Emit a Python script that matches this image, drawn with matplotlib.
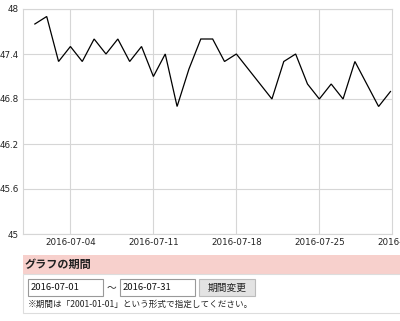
import matplotlib
matplotlib.use("Agg")
import matplotlib.pyplot as plt
import matplotlib.dates as mdates
from matplotlib.patches import Rectangle
import pandas as pd

dates = pd.date_range("2016-07-01", "2016-07-31", freq="D")
values = [47.8, 47.9, 47.3, 47.5, 47.3, 47.6, 47.4, 47.6, 47.3, 47.5,
          47.1, 47.4, 46.7, 47.2, 47.6, 47.6, 47.3, 47.4, 47.2, 47.0,
          46.8, 47.3, 47.4, 47.0, 46.8, 47.0, 46.8, 47.3, 47.0, 46.7,
          46.9]
y_ticks = [45, 45.6, 46.2, 46.8, 47.4, 48]
y_labels = ["45", "45.6", "46.2", "46.8", "47.4", "48"]
x_ticks = ["2016-07-04", "2016-07-11", "2016-07-18", "2016-07-25", "2016-08-01"]
header = "グラフの期間"
date_from = "2016-07-01"
date_to = "2016-07-31"
button = "期間変更"
note = "※期間は「2001-01-01」という形式で指定してください。"

W, H = 400, 321
fig = plt.figure(figsize=(W / 100, H / 100), dpi=100)
fig.patch.set_facecolor("white")

def fx(px):
    return px / W

def fy(py):
    return 1 - py / H

ax = fig.add_axes([fx(23), fy(234), fx(392) - fx(23), fy(9) - fy(234)])
xd = mdates.date2num(dates)
ax.plot(xd, values, color="black", lw=0.9, solid_joinstyle="miter")
ax.set_ylim(45, 48)
x0 = mdates.date2num(pd.Timestamp("2016-06-30"))
x1 = mdates.date2num(pd.Timestamp("2016-07-31")) + 0.13
ax.set_xlim(x0, x1)
tick_nums = [mdates.date2num(pd.Timestamp(t)) for t in x_ticks]
vis = [(t, l) for t, l in zip(tick_nums, x_ticks) if t <= x1]
ax.set_xticks([t for t, _ in vis])
ax.set_xticklabels([l for _, l in vis])
ax.set_yticks(y_ticks)
ax.set_yticklabels(y_labels)
grid_c = "#d6d6d6"
ax.grid(True, color=grid_c, lw=0.8)
ax.set_axisbelow(True)
for s in ax.spines.values():
    s.set_color(grid_c)
    s.set_linewidth(0.8)
ax.tick_params(length=0, labelsize=6.3, pad=3, colors="#222222")
for lab in ax.get_xticklabels() + ax.get_yticklabels():
    lab.set_family("DejaVu Sans")
# clipped tick label beyond the shown range
for t, l in zip(tick_nums, x_ticks):
    if t > x1:
        ax.text(t, 45, l, transform=ax.get_xaxis_transform() if False else ax.transData,
                ha="center", va="top", fontsize=6.3, color="#222222",
                clip_on=False)
        ax.texts[-1].set_position((t, 45 - 0.05))

jp = ["Noto Sans CJK JP", "DejaVu Sans"]

def rect(px0, py0, px1, py1, fc, ec="none", lw=0.8):
    r = Rectangle((fx(px0), fy(py1)), fx(px1) - fx(px0), fy(py0) - fy(py1),
                  transform=fig.transFigure, facecolor=fc, edgecolor=ec, lw=lw)
    fig.add_artist(r)

rect(23, 255, 402, 274, "#f7d0cc")
rect(23, 274, 402, 313, "white", "#dddddd")
fig.text(fx(25), fy(264.5), header, fontsize=8, fontweight="bold", family=jp,
         va="center", ha="left", color="#222222")
rect(28, 279, 103, 296, "white", "#999999")
rect(120, 279, 195, 296, "white", "#999999")
rect(199, 279, 255, 296, "#e3e3e3", "#bbbbbb")
fig.text(fx(31), fy(287.5), date_from, fontsize=6.8, family=jp, va="center", ha="left", color="#111111")
fig.text(fx(123), fy(287.5), date_to, fontsize=6.8, family=jp, va="center", ha="left", color="#111111")
fig.text(fx(111), fy(287.5), "～", fontsize=7, family=jp, va="center", ha="center", color="#222222")
fig.text(fx(227), fy(287.5), button, fontsize=7, family=jp, va="center", ha="center", color="#222222")
fig.text(fx(28), fy(304.5), note, fontsize=6.2, family=jp, va="center", ha="left", color="#222222")

fig.savefig("out.png", dpi=100, facecolor="white")
